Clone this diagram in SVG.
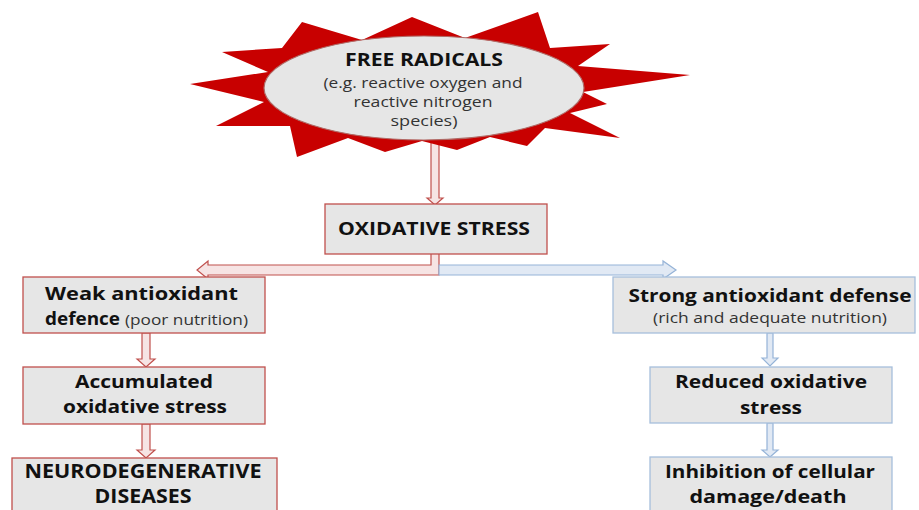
<svg xmlns="http://www.w3.org/2000/svg" width="919" height="510" viewBox="0 0 919 510">
<style>
.b{font-family:"Open Sans","Liberation Sans",sans-serif;font-weight:bold;fill:#111;}
.r{font-family:"Open Sans","Liberation Sans",sans-serif;fill:#333;}
.boxr{fill:#e6e6e6;stroke:#c0504d;stroke-width:1.3;}
.boxb{fill:#e6e6e6;stroke:#a7bfdc;stroke-width:1.3;}
.arr{fill:#f6e4e4;stroke:#c0504d;stroke-width:1.2;}
.arb{fill:#e1e9f4;stroke:#95b3d7;stroke-width:1.2;}
</style>
<rect width="919" height="510" fill="#fff"/>
<g id="connectors">
<path class="arr" d="M431,136 L431,198 L427,198 L435,205 L443,198 L439,198 L439,136 Z"/>
<path class="arr" d="M431,254 L431,265 L208,265 L208,261 L197,270 L208,279 L208,275 L439,275 L439,254"/>
<path class="arb" d="M439,265 L663,265 L663,261 L676,270 L663,279 L663,275 L439,275 Z"/>
<path class="arr" d="M142,333 L142,359 L137,359 L146,367 L155,359 L150,359 L150,333 Z"/>
<path class="arr" d="M142,424 L142,450 L137,450 L146,458 L155,450 L150,450 L150,424 Z"/>
<path class="arb" d="M767,333 L767,358 L762,358 L770,366 L778,358 L773,358 L773,333 Z"/>
<path class="arb" d="M767,423 L767,450 L762,450 L770,457 L778,450 L773,450 L773,423 Z"/>
</g>
<g id="free-radicals">
<polygon fill="#c80000" points="222,52 282,48 302,22 362,40 412,17 465,38 538,12 550,48 610,44 578,66 690,75 583,92 607,104 570,113 620,138 545,128 527,146 490,137 457,150 422,141 385,152 348,138 297,157 290,126 216,126 264,102 190,84 268,72"/>
<ellipse cx="424" cy="88" rx="160" ry="52" fill="#e6e6e6" stroke="#b06a66" stroke-width="1.2"/>
<text class="b" x="424" y="66" text-anchor="middle" font-size="18" textLength="158" lengthAdjust="spacingAndGlyphs">FREE RADICALS</text>
<text class="r" x="423" y="88" text-anchor="middle" font-size="14" textLength="199" lengthAdjust="spacingAndGlyphs">(e.g. reactive oxygen and</text>
<text class="r" x="423" y="107" text-anchor="middle" font-size="14" textLength="139" lengthAdjust="spacingAndGlyphs">reactive nitrogen</text>
<text class="r" x="424" y="126" text-anchor="middle" font-size="14" textLength="67" lengthAdjust="spacingAndGlyphs">species)</text>
</g>
<g id="oxidative-stress">
<rect class="boxr" x="325" y="204" width="222" height="50"/>
<text class="b" x="434" y="235" text-anchor="middle" font-size="18" textLength="192" lengthAdjust="spacingAndGlyphs">OXIDATIVE STRESS</text>
</g>
<g id="weak-defence">
<rect class="boxr" x="23" y="277" width="242" height="56"/>
<text class="b" x="45" y="300" font-size="18" textLength="193" lengthAdjust="spacingAndGlyphs">Weak antioxidant</text>
<text class="b" x="45" y="325" font-size="18" textLength="75" lengthAdjust="spacingAndGlyphs">defence</text>
<text class="r" x="125" y="325" font-size="14" textLength="123" lengthAdjust="spacingAndGlyphs">(poor nutrition)</text>
</g>
<g id="accumulated">
<rect class="boxr" x="23" y="367" width="242" height="57"/>
<text class="b" x="144" y="388" text-anchor="middle" font-size="18" textLength="138" lengthAdjust="spacingAndGlyphs">Accumulated</text>
<text class="b" x="145" y="413" text-anchor="middle" font-size="18" textLength="164" lengthAdjust="spacingAndGlyphs">oxidative stress</text>
</g>
<g id="neuro">
<rect class="boxr" x="12" y="458" width="265" height="60"/>
<text class="b" x="143" y="478" text-anchor="middle" font-size="19" textLength="237" lengthAdjust="spacingAndGlyphs">NEURODEGENERATIVE</text>
<text class="b" x="143" y="503" text-anchor="middle" font-size="19" textLength="97" lengthAdjust="spacingAndGlyphs">DISEASES</text>
</g>
<g id="strong-defense">
<rect class="boxb" x="613" y="277" width="302" height="56"/>
<text class="b" x="770" y="302" text-anchor="middle" font-size="18" textLength="283" lengthAdjust="spacingAndGlyphs">Strong antioxidant defense</text>
<text class="r" x="770" y="323" text-anchor="middle" font-size="14" textLength="234" lengthAdjust="spacingAndGlyphs">(rich and adequate nutrition)</text>
</g>
<g id="reduced">
<rect class="boxb" x="650" y="367" width="242" height="56"/>
<text class="b" x="771" y="388" text-anchor="middle" font-size="18" textLength="192" lengthAdjust="spacingAndGlyphs">Reduced oxidative</text>
<text class="b" x="771" y="414" text-anchor="middle" font-size="18" textLength="62" lengthAdjust="spacingAndGlyphs">stress</text>
</g>
<g id="inhibition">
<rect class="boxb" x="650" y="457" width="242" height="60"/>
<text class="b" x="770" y="478" text-anchor="middle" font-size="18" textLength="210" lengthAdjust="spacingAndGlyphs">Inhibition of cellular</text>
<text class="b" x="768" y="503" text-anchor="middle" font-size="18" textLength="157" lengthAdjust="spacingAndGlyphs">damage/death</text>
</g>
</svg>
